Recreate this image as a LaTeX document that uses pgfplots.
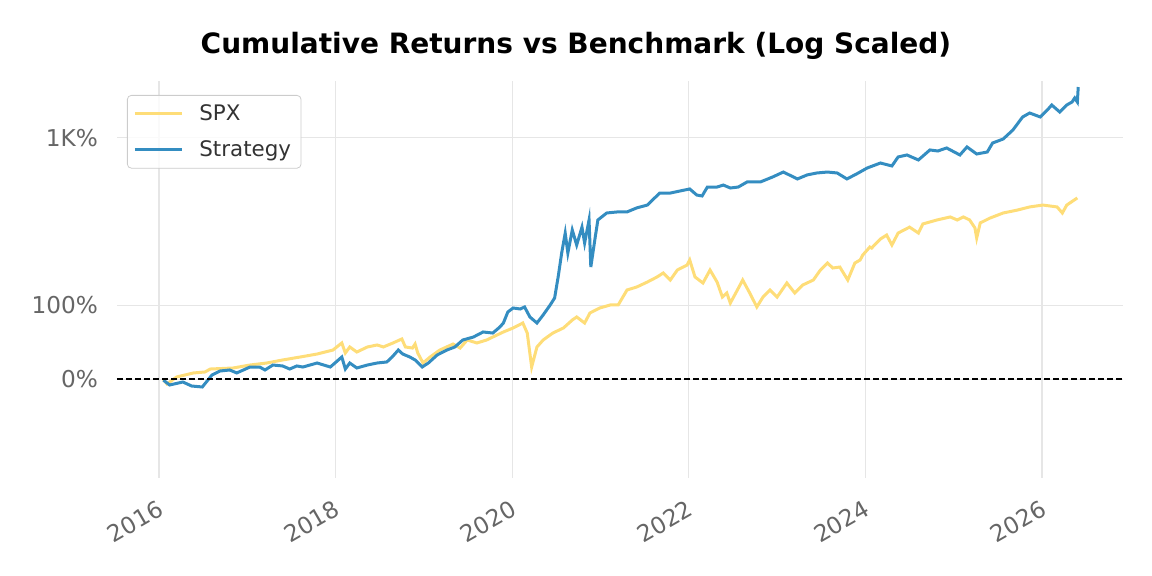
\documentclass[border=0pt]{standalone}
\usepackage{pgfplots}
\pgfplotsset{compat=1.18}
\usepackage{pgfplotstable}
\usepackage{fontspec}
\setmainfont{DejaVu Sans}
\definecolor{spx}{HTML}{FEDD78}
\definecolor{strat}{HTML}{348DC1}
\definecolor{tickgray}{HTML}{666666}
\definecolor{gridgray}{HTML}{E6E6E6}
\definecolor{legtext}{HTML}{333333}

% cumulative returns in percent
\pgfplotstableread{
yr pct
2016.05 0
2016.09 -6
2016.20 3.4
2016.39 8.8
2016.52 10.1
2016.58 14.1
2016.84 15.5
2017.03 19.5
2017.22 22.2
2017.40 26.3
2017.60 30.3
2017.79 34.3
2017.97 39.7
2018.07 49.2
2018.11 35.7
2018.16 43.8
2018.24 37.0
2018.36 43.8
2018.47 46.5
2018.54 43.8
2018.65 49.2
2018.75 54.6
2018.79 43.8
2018.87 42.4
2018.90 47.8
2018.93 35.7
2018.99 22.2
2019.07 30.3
2019.18 39.7
2019.33 47.8
2019.41 42.4
2019.49 53.2
2019.60 49.2
2019.71 53.2
2019.78 57.2
2019.90 64.0
2020.01 69.4
2020.12 76.1
2020.17 62.6
2020.22 16.8
2020.28 43.8
2020.35 53.2
2020.46 62.6
2020.58 69.4
2020.68 80.1
2020.73 84.2
2020.82 76.1
2020.88 89.6
2020.99 96.3
2021.11 100.4
2021.20 100.4
2021.30 120.6
2021.41 124.6
2021.53 131.3
2021.64 138.1
2021.71 143.5
2021.79 134.0
2021.87 147.5
2021.98 154.2
2022.01 161.0
2022.07 138.1
2022.16 130.0
2022.24 147.5
2022.32 131.3
2022.38 111.1
2022.43 116.5
2022.47 103.0
2022.55 120.6
2022.61 134.0
2022.69 116.5
2022.77 97.7
2022.84 111.1
2022.92 120.6
2023.00 111.1
2023.11 130.0
2023.20 116.5
2023.29 127.3
2023.41 134.0
2023.49 147.5
2023.57 156.9
2023.63 150.2
2023.71 151.5
2023.80 134.0
2023.88 156.9
2023.94 161.0
2023.97 167.7
2024.05 178.5
2024.07 177.1
2024.17 189.3
2024.24 194.6
2024.30 181.2
2024.37 197.3
2024.50 214
2024.60 197.3
2024.65 226
2024.81 242
2024.96 255
2025.04 242
2025.11 255
2025.18 242
2025.24 211
2025.26 190.6
2025.30 230
2025.41 250
2025.56 273
2025.72 287
2025.86 303
2026.01 313
2026.17 303
2026.23 273
2026.28 313
2026.40 354
}\spxdata

\pgfplotstableread{
yr pct
2016.05 -1
2016.12 -7.4
2016.27 -3.4
2016.37 -8.8
2016.49 -10.1
2016.60 6.1
2016.69 11.4
2016.80 12.8
2016.88 8.8
2017.03 16.8
2017.14 16.8
2017.20 12.8
2017.29 19.5
2017.40 18.2
2017.48 14.1
2017.56 18.2
2017.63 16.8
2017.79 22.2
2017.94 16.8
2018.07 30.3
2018.11 14.1
2018.16 22.2
2018.24 15.5
2018.36 19.5
2018.47 22.2
2018.58 23.6
2018.64 30.3
2018.71 39.7
2018.76 34.3
2018.84 30.3
2018.90 26.3
2018.98 16.8
2019.05 22.2
2019.15 33.0
2019.26 39.7
2019.35 43.8
2019.44 53.2
2019.56 57.2
2019.67 64.0
2019.78 62.6
2019.86 70.7
2019.90 76.1
2019.95 90.9
2020.01 96.3
2020.09 95.0
2020.14 97.7
2020.20 84.2
2020.28 76.1
2020.35 86.9
2020.43 100.4
2020.48 109.8
2020.52 138.1
2020.56 170.4
2020.60 197.2
2020.63 170.4
2020.68 203.7
2020.73 181.2
2020.79 214
2020.82 183.9
2020.87 242
2020.89 151.5
2020.94 191.9
2020.97 242
2021.07 273
2021.19 278
2021.30 278
2021.41 298
2021.53 313
2021.59 342
2021.67 385
2021.79 385
2021.90 399
2022.01 413
2022.09 372
2022.15 366
2022.21 427
2022.32 427
2022.39 442
2022.47 420
2022.56 427
2022.66 466
2022.81 466
2022.95 508
2023.07 553
2023.23 491
2023.34 526
2023.45 544
2023.57 553
2023.68 544
2023.79 491
2023.90 535
2024.02 593
2024.17 646
2024.30 614
2024.37 717
2024.47 742
2024.60 681
2024.73 809
2024.82 795
2024.92 837
2025.07 742
2025.15 852
2025.26 755
2025.38 781
2025.44 912
2025.56 977
2025.67 1141
2025.78 1428
2025.86 1530
2025.98 1428
2026.06 1611
2026.11 1756
2026.20 1557
2026.28 1756
2026.34 1849
2026.37 1981
2026.40 1849
2026.41 2394
}\stratdata

\begin{document}
\begin{tikzpicture}
\begin{axis}[
  at={(0pt,0pt)}, anchor=south west,
  scale only axis, width=503pt, height=198.5pt,
  xmin=2015.524, xmax=2026.917,
  ymin=-1.4746, ymax=4.4686,
  % symlog scale (linear threshold 200%)
  y filter/.expression={y<=200 ? y/90 : 2*(1.11111+ln(max(y,200)/200)/2.302585)},
  axis line style={draw=none},
  major tick length=0pt,
  xtick={2016,2018,2020,2022,2024,2026},
  xticklabels={2016,2018,2020,2022,2024,2026},
  ytick={0,1.11111,3.62016},
  yticklabels={0\%,100\%,1K\%},
  grid=major,
  major grid style={draw=gridgray, line width=0.6pt},
  tick label style={font=\fontsize{11.6}{13}\selectfont, text=tickgray},
  xticklabel style={rotate=30, anchor=north east, yshift=-5pt, xshift=-3pt},
  yticklabel style={anchor=east, xshift=-6pt},
  legend style={at={(axis description cs:0.0099,0.9647)}, anchor=north west,
    draw=black!20, rounded corners=2pt, fill=white, fill opacity=0.8, text opacity=1,
    font=\fontsize{10.7}{12}\selectfont, text=legtext,
    inner xsep=3pt, inner ysep=2.5pt, row sep=4.5pt},
  legend cell align=left,
  legend image code/.code={\draw[#1] (0pt,0pt) -- (23.5pt,0pt); \path (29.5pt,0pt);},
]
\addplot[spx, line width=1.5pt] table[x=yr, y=pct] {\spxdata};
\addlegendentry{SPX}
\addplot[strat, line width=1.5pt] table[x=yr, y=pct] {\stratdata};
\addlegendentry{Strategy}
\addplot[black, line width=1pt, dash pattern=on 3.2pt off 1.3pt, forget plot] coordinates {(2015.524,0) (2026.917,0)};
\end{axis}
\node[font=\fontsize{14}{16}\selectfont\bfseries, anchor=center] at (229.5pt,216pt) {Cumulative Returns vs Benchmark (Log Scaled)};
\pgfresetboundingbox
\path[use as bounding box] (-58.5pt,-49pt) rectangle (517.5pt,239pt);
\end{tikzpicture}
\end{document}
